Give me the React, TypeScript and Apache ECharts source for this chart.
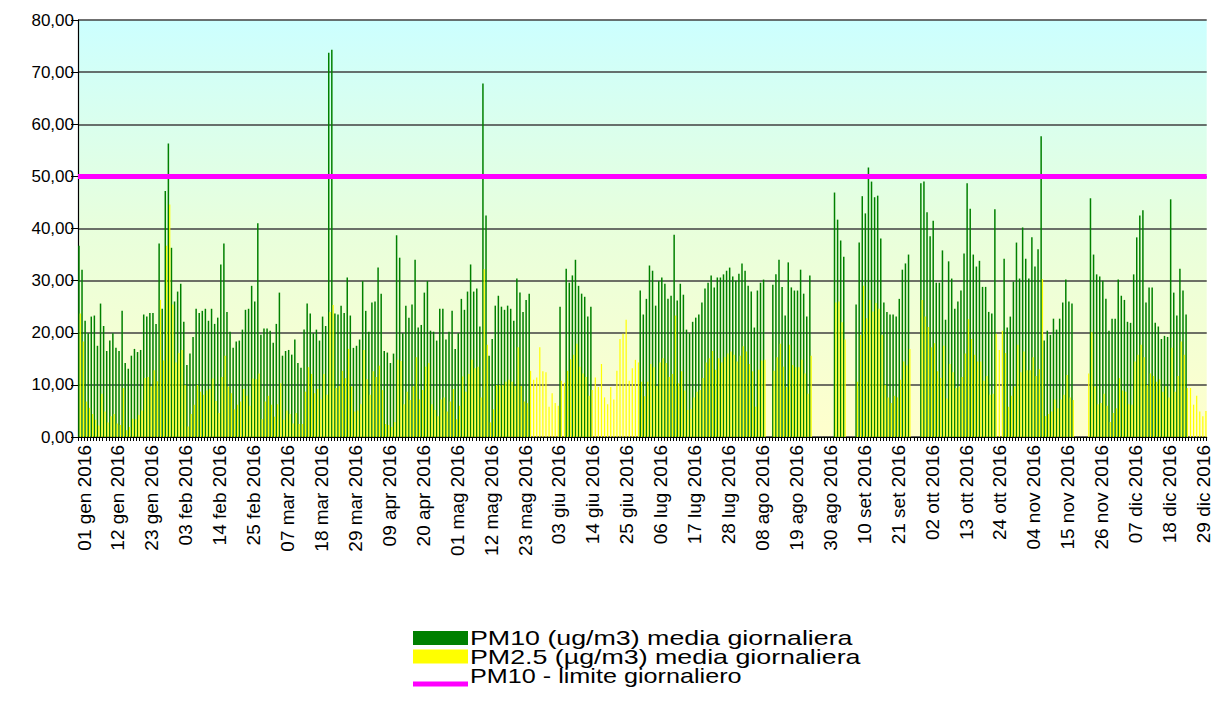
import React, { useEffect, useRef } from 'react';
import * as echarts from 'echarts';

const MONTHS = ['gen', 'feb', 'mar', 'apr', 'mag', 'giu', 'lug', 'ago', 'set', 'ott', 'nov', 'dic'];
const MONTH_DAYS = [31, 29, 31, 30, 31, 30, 31, 31, 30, 31, 30, 31];
const YEAR = 2016;
const categories: string[] = [];
MONTHS.forEach((m, i) => {
  for (let d = 1; d <= MONTH_DAYS[i]; d++) categories.push(`${String(d).padStart(2, '0')} ${m} ${YEAR}`);
});

const LIMIT = 50;
const Y_MIN = 0;
const Y_MAX = 80;
const Y_STEP = 10;

const N = null;
// PM10 daily mean (ug/m3)
const pm10: (number | null)[] = [
  36.7, 32.1, 22.3, 19.9, 23.1, 23.3, 17.5, 25.6, 21.3, 16.5,
  18.5, 19.9, 17.1, 16.5, 24.2, 14.2, 13.1, 15.6, 16.9, 16.3,
  16.7, 23.5, 23.1, 23.8, 23.8, 21.7, 37.1, 24.6, 47.2, 56.3,
  36.3, 26.0, 27.9, 29.4, 22.1, 13.8, 16.0, 19.2, 24.6, 23.8,
  24.2, 24.6, 22.3, 24.6, 21.7, 22.9, 33.1, 37.1, 24.0, 20.2,
  17.1, 18.3, 18.5, 20.6, 24.4, 24.6, 29.0, 26.0, 41.0, 19.6,
  20.8, 20.8, 20.4, 18.1, 21.7, 27.7, 15.6, 16.5, 16.7, 15.8,
  18.7, 14.2, 13.3, 20.6, 25.6, 23.7, 19.9, 20.6, 18.5, 23.1,
  21.3, 73.7, 74.3, 23.7, 23.5, 25.2, 23.8, 30.6, 23.3, 17.1,
  17.5, 18.7, 29.9, 24.2, 20.2, 25.8, 26.0, 32.5, 27.5, 16.5,
  16.2, 14.2, 16.0, 38.7, 34.4, 19.9, 25.2, 22.9, 25.4, 34.0,
  21.0, 21.5, 27.7, 29.9, 20.4, 20.2, 18.5, 24.6, 24.6, 18.7,
  20.2, 24.2, 16.9, 19.9, 26.5, 24.4, 27.9, 33.1, 27.9, 28.5,
  21.2, 67.8, 42.5, 15.6, 18.8, 25.2, 27.1, 25.0, 24.4, 25.2,
  24.6, 22.3, 30.4, 27.7, 24.0, 26.3, 27.5, N, N, N,
  N, N, N, N, N, N, 25.0, N, 32.3, 29.6,
  31.0, 34.0, 29.0, 27.5, 26.9, 23.1, 25.0, N, N, N,
  N, N, N, N, N, N, N, N, N, N,
  N, N, 28.1, 23.5, 26.5, 32.9, 31.9, 25.2, 29.9, 30.6,
  29.4, 26.5, 27.1, 38.8, 26.2, 29.4, 27.3, 20.6, 19.9, 22.1,
  22.9, 23.5, 25.8, 28.5, 29.6, 31.0, 28.7, 30.6, 30.6, 31.2,
  31.9, 32.5, 30.8, 30.0, 31.3, 33.3, 31.9, 29.0, 27.9, 21.0,
  28.1, 29.6, 30.2, N, N, 29.2, 31.2, 34.0, 28.8, 23.3,
  33.5, 28.7, 28.1, 28.1, 32.1, 27.5, 23.1, 31.0, N, N,
  N, N, N, N, N, 46.9, 41.7, 37.7, 34.6, N,
  N, N, 25.4, 37.3, 46.2, 42.9, 51.7, 49.0, 46.0, 46.3,
  38.1, 25.8, 24.0, 23.5, 23.5, 23.1, 26.5, 32.1, 33.3, 35.0,
  N, N, N, 48.7, 49.0, 43.1, 38.5, 41.5, 29.6, 29.6,
  35.8, 22.5, 33.7, 30.4, 24.6, 26.0, 28.1, 35.2, 48.7, 43.8,
  35.0, 32.7, 33.8, 28.8, 28.8, 24.0, 23.7, 43.7, N, N,
  34.2, 21.0, 23.1, 29.8, 37.3, 30.4, 40.2, 34.2, 30.4, 38.3,
  32.7, 36.0, 57.7, 18.5, 20.4, 19.6, 22.7, 20.6, 22.7, 25.8,
  30.2, 26.0, 25.6, N, N, N, N, N, 45.8, 35.0,
  31.2, 30.8, 30.0, 26.5, 20.4, 22.7, 22.7, 30.2, 27.1, 26.3,
  22.1, 21.9, 31.2, 38.3, 42.5, 43.5, 25.8, 28.7, 28.7, 21.9,
  21.2, 18.8, 19.4, 19.2, 45.6, 27.7, 23.3, 32.3, 28.1, 23.5,
  N, N, N, N, N, N,
];

// PM2.5 daily mean (ug/m3)
const pm25: (number | null)[] = [
  23.7, 18.3, 6.8, 5.6, 4.4, 3.3, 2.2, 8.3, 4.9, 2.8,
  4.0, 4.4, 2.6, 2.3, 9.4, 1.3, 1.9, 3.5, 3.4, 4.2,
  5.1, 11.3, 11.5, 9.7, 12.8, 10.7, 26.3, 14.7, 36.7, 44.6,
  25.4, 14.3, 16.1, 16.7, 10.0, 2.0, 4.4, 6.2, 10.0, 8.7,
  8.1, 8.9, 9.2, 11.2, 6.9, 4.6, 11.5, 15.6, 9.7, 8.4,
  5.3, 6.2, 6.8, 9.2, 7.9, 6.0, 11.2, 11.1, 12.2, 3.4,
  6.8, 7.9, 6.2, 3.9, 6.3, 10.3, 3.3, 5.1, 4.4, 2.6,
  4.6, 2.5, 2.5, 8.7, 13.4, 12.1, 8.4, 9.2, 7.2, 12.1,
  8.1, 24.0, 25.3, 9.4, 9.8, 12.7, 11.3, 16.9, 9.7, 4.9,
  5.1, 6.3, 16.7, 11.1, 8.1, 12.6, 11.5, 13.7, 9.0, 2.5,
  2.3, 1.9, 2.9, 14.8, 14.6, 6.3, 8.7, 7.1, 9.7, 15.3,
  7.2, 9.0, 13.5, 14.2, 6.3, 5.2, 4.0, 7.2, 7.6, 4.9,
  6.8, 9.2, 3.4, 6.0, 11.6, 8.7, 12.1, 14.8, 13.2, 13.5,
  7.6, 32.2, 17.7, 2.8, 5.3, 10.0, 10.0, 10.0, 10.6, 11.0,
  10.6, 9.8, 17.2, 9.8, 6.8, 6.5, 12.7, 11.0, 11.4, 17.2,
  12.6, 12.4, 5.8, 8.4, 6.5, 6.0, 10.8, 10.4, 12.7, 14.9,
  15.8, 17.9, 13.5, 12.2, 11.5, 7.9, 9.0, 11.4, 9.6, 14.0,
  7.6, 6.3, 9.6, 7.2, 12.7, 18.8, 19.8, 22.5, 10.8, 13.2,
  14.8, 14.3, 10.6, 7.8, 10.6, 14.0, 13.4, 9.8, 14.3, 15.1,
  14.2, 11.5, 12.1, 23.3, 10.3, 12.6, 8.9, 5.2, 5.3, 7.6,
  8.7, 9.0, 11.3, 14.3, 15.1, 16.5, 12.9, 15.1, 14.3, 15.3,
  16.0, 16.4, 15.8, 14.5, 15.6, 17.4, 16.4, 14.0, 12.6, 5.8,
  12.9, 14.7, 14.8, N, N, 12.7, 15.3, 17.9, 13.5, 9.6,
  17.7, 13.8, 13.4, 13.4, 14.8, 12.2, 8.3, 15.6, N, N,
  N, N, N, N, N, 25.8, 26.0, 22.0, 18.7, N,
  N, N, 10.6, 19.6, 29.0, 22.8, 26.3, 24.1, 25.7, 24.6,
  19.6, 10.0, 7.6, 6.5, 7.9, 7.6, 11.0, 14.5, 13.7, 16.9,
  N, N, N, 26.3, 23.1, 21.1, 17.2, 18.0, 12.6, 11.3,
  17.5, 7.4, 14.0, 12.4, 9.4, 9.7, 11.5, 16.0, 22.6, 18.8,
  15.8, 14.5, 14.5, 10.8, 11.7, 8.1, 8.3, 19.8, 16.7, 20.4,
  16.1, 5.8, 7.9, 9.7, 17.7, 12.4, 16.4, 12.8, 12.8, 15.3,
  11.7, 13.0, 30.3, 4.0, 4.4, 4.9, 7.2, 5.5, 7.2, 8.1,
  11.9, 7.6, 7.1, N, N, N, N, 12.2, 20.1, 9.7,
  6.3, 6.5, 8.3, 6.0, 2.9, 4.6, 5.5, 11.3, 8.9, 8.7,
  6.3, 6.2, 14.5, 15.8, 17.7, 15.3, 10.0, 12.2, 11.7, 10.6,
  11.1, 8.7, 9.7, 7.6, 17.1, 8.7, 11.7, 18.3, 15.8, 9.4,
  9.4, 6.2, 7.9, 4.9, 4.0, 5.0,
];

const SERIES_NAMES = [
  'PM10 (ug/m3) media giornaliera',
  'PM2.5 (µg/m3) media giornaliera',
  'PM10 - limite giornaliero',
];
const COLORS = ['#008000', '#ffff00', '#ff00ff'];

const FONT = '"Liberation Sans", Arial, sans-serif';

export default function App() {
  const ref = useRef<HTMLDivElement>(null);
  useEffect(() => {
    if (!ref.current) return;
    const chart = echarts.init(ref.current, null, { renderer: 'svg' });
    const legendX = 413;
    const legendScale = [1.34, 1.34, 1.26];
    const legendTexts = SERIES_NAMES.map((name, i) => ({
      type: 'text',
      x: legendX + 57,
      y: 638.5 + i * 18.5,
      scaleX: legendScale[i],
      style: { text: name, font: `20px ${FONT}`, fill: '#000', verticalAlign: 'middle', align: 'left' },
    }));
    chart.setOption({
      animation: false,
      backgroundColor: '#ffffff',
      grid: {
        left: 78,
        top: 20,
        width: 1140,
        height: 417,
        show: true,
        borderWidth: 0,
        backgroundColor: new echarts.graphic.LinearGradient(0, 0, 0, 1, [
          { offset: 0, color: '#ccffff' },
          { offset: 0.5, color: '#e8ffdc' },
          { offset: 1, color: '#ffffcc' },
        ]),
      },
      xAxis: {
        type: 'category',
        data: categories,
        boundaryGap: true,
        axisLine: { show: true, lineStyle: { color: '#000', width: 1.2 } },
        axisTick: { show: true, interval: 0, length: 4, lineStyle: { color: '#000' } },
        axisLabel: {
          interval: 10,
          rotate: 90,
          fontSize: 19,
          fontFamily: FONT,
          color: '#000',
          margin: 8,
          verticalAlign: 'top',
          lineHeight: 9,
        },
        splitLine: { show: false },
      },
      yAxis: {
        type: 'value',
        min: Y_MIN,
        max: Y_MAX,
        interval: Y_STEP,
        axisLine: { show: true, lineStyle: { color: '#000', width: 1.2 } },
        axisTick: { show: true, length: 7, lineStyle: { color: '#000' } },
        axisLabel: {
          fontSize: 17,
          fontFamily: FONT,
          color: '#000',
          margin: 4,
          formatter: (v: number) => v.toFixed(2).replace('.', ','),
        },
        splitLine: { show: true, lineStyle: { color: '#404040', width: 1.5 } },
      },
      series: [
        {
          name: SERIES_NAMES[0],
          type: 'bar',
          data: pm10,
          barWidth: 1.5,
          barGap: '0%',
          itemStyle: { color: COLORS[0] },
        },
        {
          name: SERIES_NAMES[1],
          type: 'bar',
          data: pm25,
          barWidth: 1.2,
          barGap: '0%',
          itemStyle: { color: COLORS[1] },
        },
        {
          name: SERIES_NAMES[2],
          type: 'line',
          data: [],
          itemStyle: { color: COLORS[2] },
          lineStyle: { color: COLORS[2], width: 5 },
          markLine: {
            silent: true,
            symbol: 'none',
            label: { show: false },
            lineStyle: { color: COLORS[2], width: 5, type: 'solid' },
            data: [{ yAxis: LIMIT }],
          },
        },
      ],
      graphic: [
        { type: 'rect', shape: { x: legendX, y: 631, width: 55, height: 14 }, style: { fill: COLORS[0] } },
        { type: 'rect', shape: { x: legendX, y: 649.5, width: 55, height: 14 }, style: { fill: COLORS[1] } },
        { type: 'rect', shape: { x: legendX, y: 681.5, width: 55, height: 5 }, style: { fill: COLORS[2] } },
        ...legendTexts,
      ],
    });
    return () => chart.dispose();
  }, []);
  return <div ref={ref} style={{ position: 'absolute', left: 0, top: 0, width: 1213, height: 704 }} />;
}
